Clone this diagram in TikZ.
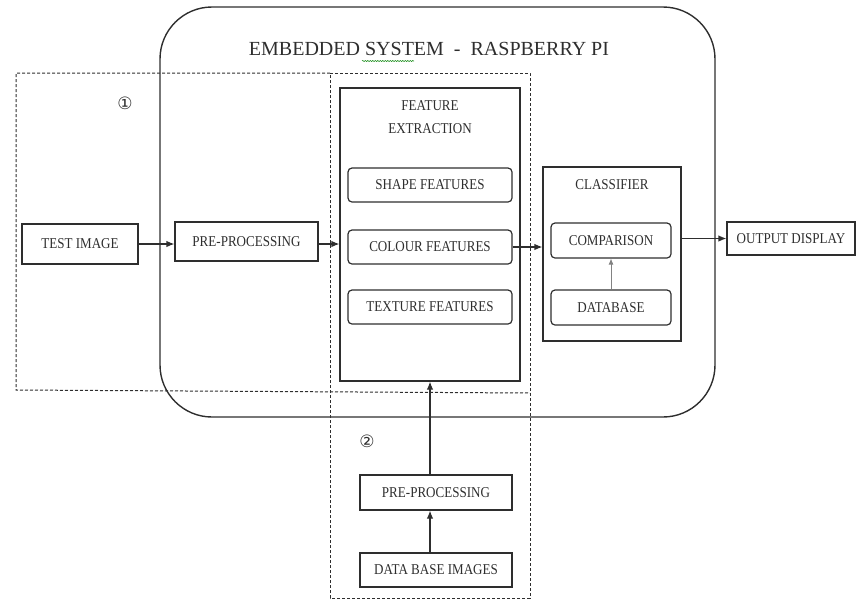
\documentclass[tikz,border=0pt]{standalone}
\usepackage{fontspec}
\setmainfont{Liberation Serif}[FakeStretch=0.87]
\newfontfamily\titlefont{Liberation Serif}
\newfontfamily\symfont{DejaVu Sans}
\usetikzlibrary{arrows.meta,decorations.pathmorphing}
\definecolor{ink}{HTML}{2E2E2E}
\tikzset{
  box/.style={draw=ink, line width=1.2pt, rectangle, inner sep=0pt, text=ink, font=\fontsize{15}{17}\selectfont},
  rbox/.style={box, rounded corners=4pt},
  dashline/.style={draw=ink, line width=1pt, dash pattern=on 3pt off 2pt},
  arr/.style={draw=ink, line width=1.2pt, -{Latex[length=8pt,width=6.5pt]}},
  lbl/.style={text=ink, inner sep=0pt, font=\fontsize{15}{17}\selectfont},
  num/.style={text=ink, font=\symfont\fontsize{17}{19}\selectfont, inner sep=0pt}
}
\begin{document}
\begin{tikzpicture}[x=1pt,y=-1pt]
\useasboundingbox (0,0) rectangle (861,603);
% embedded system frame
\draw[draw=ink, line width=1.4pt, rounded corners=52pt] (160,7) rectangle (715,417);
\node[text=ink, inner sep=0pt, font=\titlefont\fontsize{20}{22}\selectfont] (title) at (429,49) {EMBEDDED SYSTEM\ \ -\ \ RASPBERRY PI};
\draw[draw=green!50!black, line width=0.5pt, decorate, decoration={snake, amplitude=0.6pt, segment length=2.5pt}] (362,61) -- (414,61);
% dashed regions
\draw[dashline] (330,73) -- (16,73) -- (16,390) -- (530,393);
\draw[dashline] (330,73) -- (530,73) -- (530,598) -- (330,598) -- cycle;
\node[num] (n1) at (125,103) {①};
\node[num] (n2) at (367,441) {②};
% nodes
\node[box, minimum width=116pt, minimum height=40pt] (test) at (80,244) {TEST IMAGE};
\node[box, minimum width=143pt, minimum height=39pt] (pre1) at (246.5,241.5) {PRE-PROCESSING};
\node[box, minimum width=180pt, minimum height=293pt] (feat) at (430,234.5) {};
\node[lbl, align=center, font=\fontsize{15}{23}\selectfont] (feattitle) at (430,117) {FEATURE\\EXTRACTION};
\node[rbox, minimum width=164pt, minimum height=34pt] (shape) at (430,185) {SHAPE FEATURES};
\node[rbox, minimum width=164pt, minimum height=34pt] (colour) at (430,247) {COLOUR FEATURES};
\node[rbox, minimum width=164pt, minimum height=34pt] (texture) at (430,307) {TEXTURE FEATURES};
\node[box, minimum width=138pt, minimum height=174pt] (cls) at (612,254) {};
\node[lbl] (clstitle) at (612,185) {CLASSIFIER};
\node[rbox, minimum width=120pt, minimum height=35pt] (comp) at (611,240.5) {COMPARISON};
\node[rbox, minimum width=120pt, minimum height=35pt] (db) at (611,307.5) {DATABASE};
\node[box, minimum width=128pt, minimum height=33pt] (out) at (791,238.5) {OUTPUT DISPLAY};
\node[box, minimum width=152pt, minimum height=35pt] (pre2) at (436,492.5) {PRE-PROCESSING};
\node[box, minimum width=152pt, minimum height=34pt] (dbimg) at (436,570) {DATA BASE IMAGES};
% connectors
\draw[arr] (test.east) -- (test.east -| pre1.west);
\coordinate (p1) at (pre1.east |- test.east);
\draw[arr] (p1) -- (p1 -| feat.west);
\draw[arr] (colour.east) -- (colour.east -| cls.west);
\draw[arr] (cls.east |- out.west) -- (out.west);
\draw[draw=ink!60, line width=0.8pt, -{Latex[length=6pt,width=5pt]}] (db.north) -- (comp.south);
\draw[arr] (dbimg.north -| feat.south) -- (pre2.south -| feat.south);
\draw[arr] (pre2.north -| feat.south) -- (feat.south);
\end{tikzpicture}
\end{document}
